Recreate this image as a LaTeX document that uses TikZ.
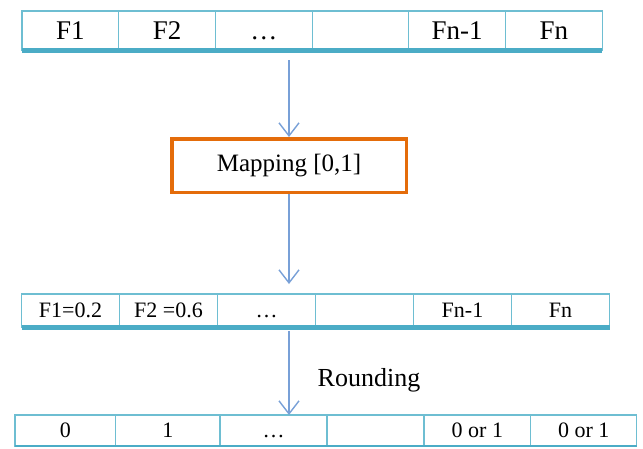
\documentclass[tikz,border=0pt]{standalone}
\usepackage{fontspec}
\setmainfont{Liberation Serif}
\usetikzlibrary{arrows.meta,positioning}
\definecolor{cellblue}{RGB}{110,190,210}
\definecolor{barblue}{RGB}{75,172,198}
\definecolor{flowblue}{RGB}{120,160,215}
\definecolor{maporange}{RGB}{228,108,10}

\begin{document}
\begin{tikzpicture}[x=1pt,y=-1pt,>={Straight Barb[length=13pt,width=20pt]},
  cell/.style={draw=cellblue,line width=1.2pt,fill=white,outer sep=0pt,inner sep=0pt,text depth=0pt},
  top cell/.style={cell,minimum width=96.7pt,minimum height=39pt,text height=18pt,
    font=\fontsize{27}{27}\selectfont},
  mid cell/.style={cell,minimum width=98pt,minimum height=33pt,text height=14.5pt,
    font=\fontsize{22}{22}\selectfont},
  low cell/.style={cell,minimum height=31pt,text height=14.5pt,font=\fontsize{22}{22}\selectfont},
  bar/.style={draw=barblue},
  map node/.style={draw=maporange,line width=3.5pt,minimum width=234.5pt,minimum height=53.5pt,font=\fontsize{25}{25}\selectfont},
  flow/.style={->,draw=flowblue,line width=1.4pt}]
  \useasboundingbox (0,0) rectangle (643,448);

  % features
  \node[top cell] (t1) at (70.35,30.5) {F1};
  \node[top cell] (t2) [right=0pt of t1] {F2};
  \node[top cell] (t3) [right=0pt of t2] {…};
  \node[top cell] (t4) [right=0pt of t3] {};
  \node[top cell] (t5) [right=0pt of t4] {Fn-1};
  \node[top cell] (t6) [right=0pt of t5] {Fn};
  \draw[bar,line width=5pt] (t1.south west) -- (t6.south east);

  \node[map node] (map) at (289,165.5) {Mapping [0,1]};

  % mapped values
  \node[mid cell] (m1) at (70.5,310.5) {F1=0.2};
  \node[mid cell] (m2) [right=0pt of m1] {F2 =0.6};
  \node[mid cell] (m3) [right=0pt of m2] {…};
  \node[mid cell] (m4) [right=0pt of m3] {};
  \node[mid cell] (m5) [right=0pt of m4] {Fn-1};
  \node[mid cell] (m6) [right=0pt of m5] {Fn};
  \draw[bar,line width=5pt] (m1.south west) -- (m6.south east);

  \node[font=\fontsize{26}{26}\selectfont] (round) at (369,380) {Rounding};

  % rounded values
  \node[low cell,minimum width=100.7pt] (b1) at (65.35,430.5) {0};
  \node[low cell,minimum width=104.3pt] (b2) [right=0pt of b1] {1};
  \node[low cell,minimum width=107pt] (b3) [right=0pt of b2] {…};
  \node[low cell,minimum width=97pt] (b4) [right=0pt of b3] {};
  \node[low cell,minimum width=106.7pt] (b5) [right=0pt of b4] {0 or 1};
  \node[low cell,minimum width=106pt] (b6) [right=0pt of b5] {0 or 1};
  \draw[bar,line width=2.5pt] (b1.south west) -- (b6.south east);

  \coordinate (p1) at (289,60);
  \coordinate (p2) at (289,284);
  \coordinate (p3) at (289,331);
  \coordinate (p4) at (289,415);

  \draw[flow] (p1) -- (map);
  \draw[flow] (map) -- (p2);
  \draw[flow] (p3) -- (p4);
\end{tikzpicture}
\end{document}
